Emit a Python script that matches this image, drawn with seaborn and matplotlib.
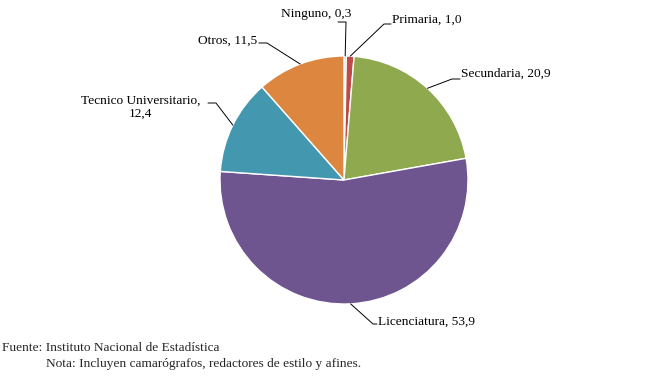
import numpy as np
import matplotlib
matplotlib.use("Agg")
import matplotlib.pyplot as plt
import seaborn as sns

# ====================
#  DATA
# ====================

categories = ["Ninguno", "Primaria", "Secundaria", "Licenciatura",
              "Tecnico Universitario", "Otros"]
values = [0.3, 1.0, 20.9, 53.9, 12.4, 11.5]
label_texts = ["Ninguno, 0,3", "Primaria, 1,0", "Secundaria, 20,9",
               "Licenciatura, 53,9", "Tecnico Universitario,\n12,4", "Otros, 11,5"]
colors = ["#a7bfdc", "#be4b48", "#8ea94e", "#6f5590", "#4398b0", "#dc8640"]

fuente = "Fuente: Instituto Nacional de Estadística"
nota = "Nota: Incluyen camarógrafos, redactores de estilo y afines."

# ====================
#  LAYOUT (pixels, top-left origin)
# ====================
W, H = 647, 377
cx, cy, R = 344, 180, 124

# text anchor (x, y, ha), elbow point of leader line
label_pos = [
    (316, 14, "center", (346, 22)),
    (392, 20, "left", (384, 24)),
    (461, 74, "left", (452, 79)),
    (378, 322, "left", (373, 324)),
    (141, 107, "center", (216, 103)),
    (228, 41, "center", (267, 43)),
]

FS = 9.6


def main():
    sns.set_theme(style="white")
    plt.rcParams["font.family"] = ["Liberation Serif", "DejaVu Serif"]

    fig = plt.figure(figsize=(W / 100, H / 100), dpi=100)
    ax = fig.add_axes([0, 0, 1, 1])

    wedges, _ = ax.pie(values, colors=colors, startangle=90, counterclock=False,
                       center=(cx, H - cy), radius=R,
                       wedgeprops=dict(edgecolor="white", linewidth=1.0))
    ax.set_aspect("auto")
    ax.set_xlim(0, W)
    ax.set_ylim(0, H)
    ax.axis("off")

    for w, txt, (tx, ty, ha, elbow) in zip(wedges, label_texts, label_pos):
        ang = np.deg2rad((w.theta1 + w.theta2) / 2)
        px = cx + R * np.cos(ang)
        py = (H - cy) + R * np.sin(ang)
        ex, ey = elbow[0], H - elbow[1]
        if ha == "left":
            end = (tx - 1, ey)
        elif ha == "center" and tx < cx:
            end = (ex - 8, ey)
        else:
            end = (ex, ey)
        ax.plot([px, ex, end[0]], [py, ey, end[1]], color="black", lw=0.7)
        ax.text(tx, H - ty, txt, ha=ha, va="center", fontsize=FS,
                color="black", linespacing=1.1)

    fig.text(2 / W, 1 - 348 / H, fuente, ha="left", va="center", fontsize=FS)
    fig.text(46 / W, 1 - 364 / H, nota, ha="left", va="center", fontsize=FS)

    fig.savefig("out.png", dpi=100)
    plt.close(fig)


if __name__ == "__main__":
    main()
